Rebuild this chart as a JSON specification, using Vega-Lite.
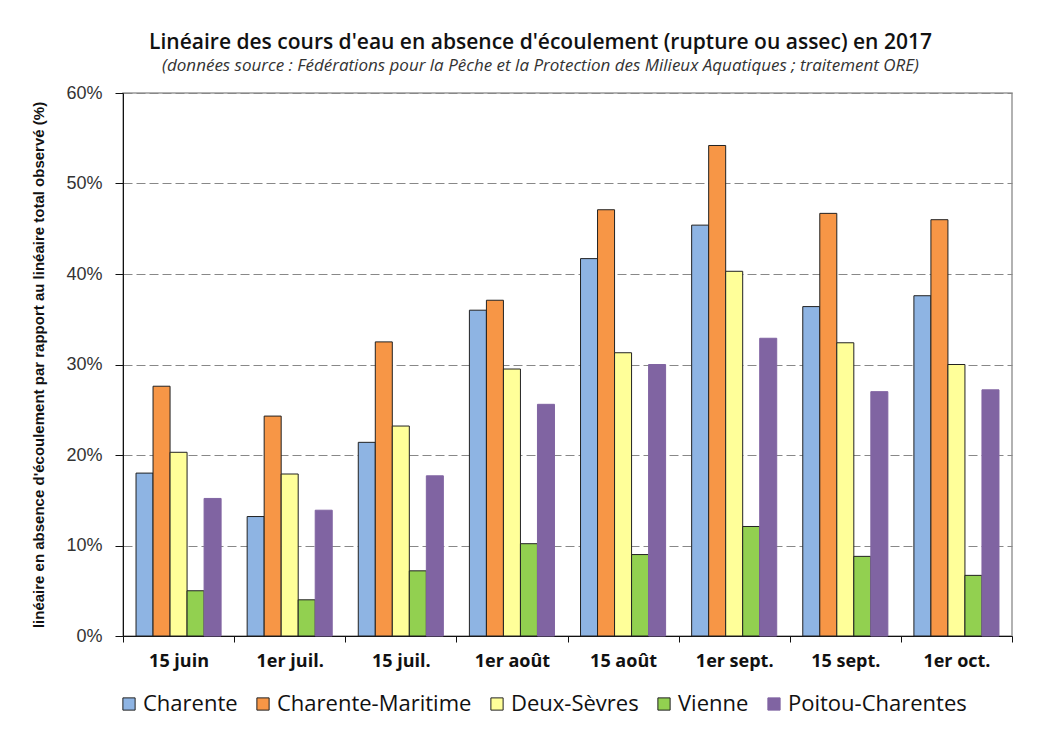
{
  "$schema": "https://vega.github.io/schema/vega-lite/v6.json",
  "autosize": {"type": "none"},
  "padding": {"left": 123, "top": 93, "right": 43, "bottom": 95},
  "width": 889,
  "height": 543,
  "background": "white",
  "title": {
    "text": "Linéaire des cours d'eau en absence d'écoulement (rupture ou assec) en 2017",
    "subtitle": "(données source : Fédérations pour la Pêche et la Protection des Milieux Aquatiques ; traitement ORE)",
    "anchor": "middle",
    "dx": -27,
    "offset": 10,
    "font": "Open Sans",
    "fontSize": 21,
    "fontWeight": 600,
    "color": "#111",
    "subtitleFont": "Open Sans",
    "subtitleFontSize": 17,
    "subtitleFontStyle": "italic",
    "subtitleColor": "#333",
    "subtitlePadding": 5
  },
  "data": {
    "values": [
      {"date": "15 juin", "region": "Charente", "value": 18.0},
      {"date": "15 juin", "region": "Charente-Maritime", "value": 27.6},
      {"date": "15 juin", "region": "Deux-Sèvres", "value": 20.3},
      {"date": "15 juin", "region": "Vienne", "value": 5.0},
      {"date": "15 juin", "region": "Poitou-Charentes", "value": 15.2},
      {"date": "1er juil.", "region": "Charente", "value": 13.2},
      {"date": "1er juil.", "region": "Charente-Maritime", "value": 24.3},
      {"date": "1er juil.", "region": "Deux-Sèvres", "value": 17.9},
      {"date": "1er juil.", "region": "Vienne", "value": 4.0},
      {"date": "1er juil.", "region": "Poitou-Charentes", "value": 13.9},
      {"date": "15 juil.", "region": "Charente", "value": 21.4},
      {"date": "15 juil.", "region": "Charente-Maritime", "value": 32.5},
      {"date": "15 juil.", "region": "Deux-Sèvres", "value": 23.2},
      {"date": "15 juil.", "region": "Vienne", "value": 7.2},
      {"date": "15 juil.", "region": "Poitou-Charentes", "value": 17.7},
      {"date": "1er août", "region": "Charente", "value": 36.0},
      {"date": "1er août", "region": "Charente-Maritime", "value": 37.1},
      {"date": "1er août", "region": "Deux-Sèvres", "value": 29.5},
      {"date": "1er août", "region": "Vienne", "value": 10.2},
      {"date": "1er août", "region": "Poitou-Charentes", "value": 25.6},
      {"date": "15 août", "region": "Charente", "value": 41.7},
      {"date": "15 août", "region": "Charente-Maritime", "value": 47.1},
      {"date": "15 août", "region": "Deux-Sèvres", "value": 31.3},
      {"date": "15 août", "region": "Vienne", "value": 9.0},
      {"date": "15 août", "region": "Poitou-Charentes", "value": 30.0},
      {"date": "1er sept.", "region": "Charente", "value": 45.4},
      {"date": "1er sept.", "region": "Charente-Maritime", "value": 54.2},
      {"date": "1er sept.", "region": "Deux-Sèvres", "value": 40.3},
      {"date": "1er sept.", "region": "Vienne", "value": 12.1},
      {"date": "1er sept.", "region": "Poitou-Charentes", "value": 32.9},
      {"date": "15 sept.", "region": "Charente", "value": 36.4},
      {"date": "15 sept.", "region": "Charente-Maritime", "value": 46.7},
      {"date": "15 sept.", "region": "Deux-Sèvres", "value": 32.4},
      {"date": "15 sept.", "region": "Vienne", "value": 8.8},
      {"date": "15 sept.", "region": "Poitou-Charentes", "value": 27.0},
      {"date": "1er oct.", "region": "Charente", "value": 37.6},
      {"date": "1er oct.", "region": "Charente-Maritime", "value": 46.0},
      {"date": "1er oct.", "region": "Deux-Sèvres", "value": 30.0},
      {"date": "1er oct.", "region": "Vienne", "value": 6.7},
      {"date": "1er oct.", "region": "Poitou-Charentes", "value": 27.2}
    ]
  },
  "mark": {"type": "bar", "strokeWidth": 1},
  "encoding": {
    "x": {
      "field": "date",
      "type": "nominal",
      "sort": null,
      "scale": {"paddingInner": 0, "paddingOuter": 0},
      "axis": {
        "title": null,
        "labelAngle": 0,
        "labelFont": "Open Sans",
        "labelFontWeight": "bold",
        "labelFontSize": 18,
        "labelColor": "#111",
        "labelPadding": 10,
        "tickBand": "extent",
        "tickColor": "#111",
        "tickSize": 6,
        "domainColor": "#111",
        "grid": false
      }
    },
    "xOffset": {
      "field": "region",
      "type": "nominal",
      "sort": ["Charente", "Charente-Maritime", "Deux-Sèvres", "Vienne", "Poitou-Charentes"],
      "scale": {"paddingInner": 0, "paddingOuter": 0.765}
    },
    "y": {
      "field": "value",
      "type": "quantitative",
      "scale": {"domain": [0, 60], "nice": false},
      "axis": {
        "title": "linéaire en absence d'écoulement par rapport au linéaire total observé (%)",
        "titleFont": "Liberation Sans",
        "titleFontSize": 15,
        "titleFontWeight": "bold",
        "titleColor": "#111",
        "titleX": -85,
        "titleY": 271.5,
        "titleAngle": -90,
        "titleAlign": "center",
        "titleBaseline": "middle",
        "values": [0, 10, 20, 30, 40, 50, 60],
        "labelExpr": "datum.value + '%'",
        "labelFont": "Liberation Sans",
        "labelFontSize": 18,
        "labelColor": "#333",
        "labelPadding": 13,
        "tickSize": 8,
        "tickColor": "#111",
        "domainColor": "#111",
        "grid": true,
        "gridDash": [9, 4],
        "gridColor": "#888",
        "gridWidth": 1
      }
    },
    "color": {
      "field": "region",
      "type": "nominal",
      "scale": {
        "domain": ["Charente", "Charente-Maritime", "Deux-Sèvres", "Vienne", "Poitou-Charentes"],
        "range": ["#8EB4E3", "#F79646", "#FFFF99", "#92D050", "#8064A2"]
      },
      "legend": {
        "title": null,
        "orient": "none",
        "direction": "horizontal",
        "legendX": -5,
        "legendY": 600,
        "symbolType": "square",
        "symbolSize": 150,
        "symbolStrokeWidth": 1,
        "labelFont": "Open Sans",
        "labelFontSize": 22,
        "labelLimit": 0,
        "labelColor": "#111",
        "labelOffset": 3,
        "columnPadding": 14
      }
    },
    "stroke": {
      "field": "region",
      "type": "nominal",
      "scale": {
        "domain": ["Charente", "Charente-Maritime", "Deux-Sèvres", "Vienne", "Poitou-Charentes"],
        "range": ["#222", "#222", "#222", "#222", "#8064A2"]
      },
      "legend": null
    }
  },
  "config": {
    "view": {"stroke": "#999", "strokeWidth": 1.5}
  }
}
